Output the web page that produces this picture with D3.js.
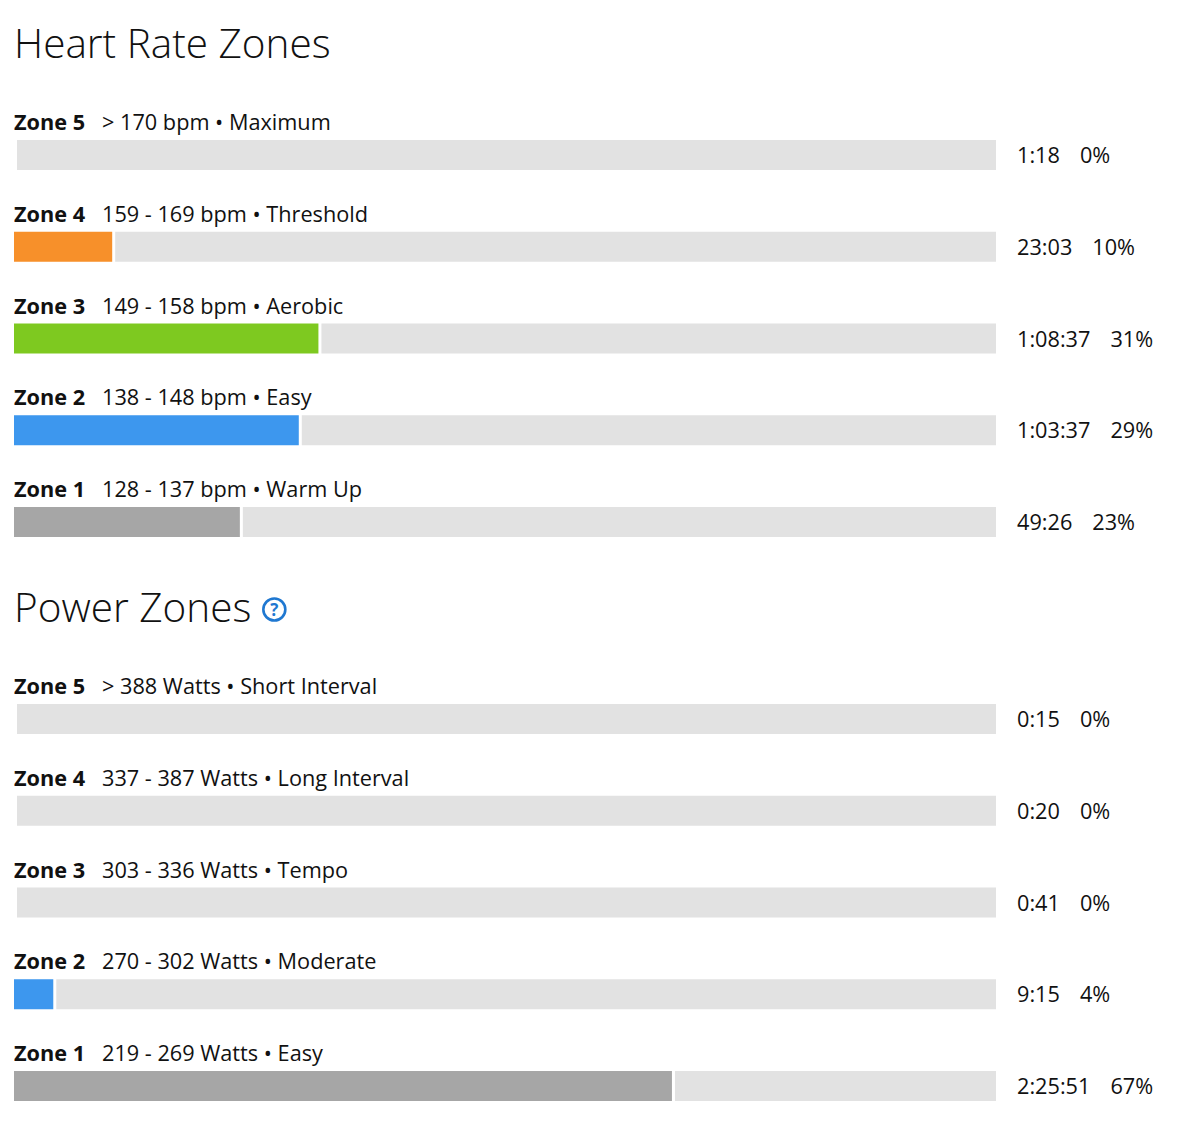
<!DOCTYPE html>
<html>
<head>
<meta charset="utf-8">
<script src="https://cdn.jsdelivr.net/npm/d3@7"></script>
<style>
  body { margin: 0; background: #fff; }
  svg { font-family: "Open Sans", sans-serif; display: block; }
</style>
</head>
<body>
<div id="chart"></div>
<script>
const width = 1200;
const height = 1130;

// zone names, top to bottom
const zoneNames = ["Zone 5", "Zone 4", "Zone 3", "Zone 2", "Zone 1"];
const zoneColors = ["#e8412c", "#f7902a", "#7ec920", "#3d97ee", "#a6a6a6"];

const hrRanges = ["> 170 bpm", "159 - 169 bpm", "149 - 158 bpm", "138 - 148 bpm", "128 - 137 bpm"];
const hrNames = ["Maximum", "Threshold", "Aerobic", "Easy", "Warm Up"];
const hrTimes = ["1:18", "23:03", "1:08:37", "1:03:37", "49:26"];
const hrPercents = [0, 10, 31, 29, 23];

const pwRanges = ["> 388 Watts", "337 - 387 Watts", "303 - 336 Watts", "270 - 302 Watts", "219 - 269 Watts"];
const pwNames = ["Short Interval", "Long Interval", "Tempo", "Moderate", "Easy"];
const pwTimes = ["0:15", "0:20", "0:41", "9:15", "2:25:51"];
const pwPercents = [0, 0, 0, 4, 67];

const barLeft = 14;
const barRight = 996;
const barH = 30;
const gap = 3;

const svg = d3.select("#chart").append("svg")
  .attr("width", width)
  .attr("height", height);

const x = d3.scaleLinear().domain([0, 100]).range([0, barRight - barLeft]);

function zoneSection(top, title, ranges, names, times, percents, help) {
  const g = svg.append("g").attr("transform", `translate(0,${top})`);

  const titleText = g.append("text")
    .attr("x", 14)
    .attr("y", 58)
    .attr("font-size", 40.5)
    .attr("font-weight", 300)
    .attr("fill", "#111")
    .text(title);

  if (help) {
    const tw = titleText.node().getComputedTextLength();
    const cx = 14 + tw + 23;
    g.append("circle")
      .attr("cx", cx).attr("cy", 45.5).attr("r", 11)
      .attr("fill", "none").attr("stroke", "#1f78d1").attr("stroke-width", 2.6);
    g.append("text")
      .attr("x", cx).attr("y", 51.5)
      .attr("text-anchor", "middle")
      .attr("font-size", 17).attr("font-weight", 700)
      .attr("fill", "#1f78d1")
      .text("?");
  }

  const y = d3.scalePoint()
    .domain(zoneNames)
    .range([140, 507]);

  const rows = g.selectAll("g.row")
    .data(zoneNames.map((z, i) => ({
      zone: z, range: ranges[i], name: names[i],
      time: times[i], pct: percents[i], color: zoneColors[i]
    })))
    .join("g")
    .attr("class", "row")
    .attr("transform", (d) => `translate(0,${y(d.zone)})`);

  const label = rows.append("text")
    .attr("x", barLeft)
    .attr("y", -10)
    .attr("font-size", 21.7)
    .attr("fill", "#111");
  label.append("tspan")
    .attr("font-weight", 700)
    .text((d) => d.zone);
  label.append("tspan")
    .attr("x", 102)
    .text((d) => `${d.range} \u2022 ${d.name}`);

  rows.append("rect")
    .attr("x", barLeft)
    .attr("width", (d) => x(d.pct))
    .attr("height", barH)
    .attr("fill", (d) => d.color);

  rows.append("rect")
    .attr("x", (d) => barLeft + x(d.pct) + gap)
    .attr("width", (d) => barRight - barLeft - x(d.pct) - gap)
    .attr("height", barH)
    .attr("fill", "#e2e2e2");

  const val = rows.append("text")
    .attr("x", 1017)
    .attr("y", 23)
    .attr("font-size", 21.7)
    .attr("fill", "#111");
  val.append("tspan").text((d) => d.time);
  val.append("tspan").attr("dx", 20).text((d) => d.pct + "%");
}

zoneSection(0, "Heart Rate Zones", hrRanges, hrNames, hrTimes, hrPercents, false);
zoneSection(564, "Power Zones", pwRanges, pwNames, pwTimes, pwPercents, true);
</script>
</body>
</html>
